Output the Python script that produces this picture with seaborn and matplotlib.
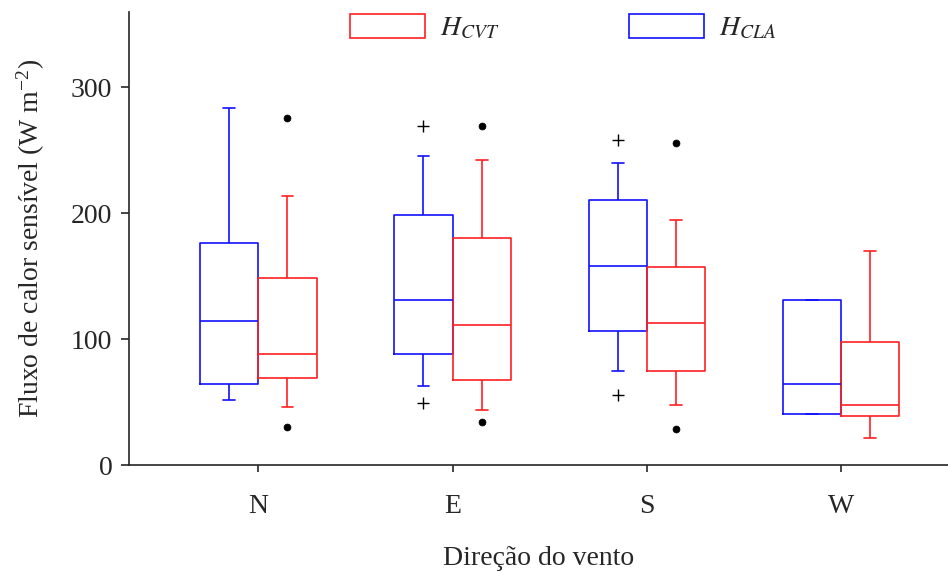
import seaborn as sns
import matplotlib.pyplot as plt
import matplotlib.patches as mpatches
import pandas as pd

# wind directions
direcoes = ['N', 'E', 'S', 'W']

# H_CLA (blue): whisker low (10%), Q1, median, Q3, whisker high (90%), outliers (5% / 95%)
cla_wlo = [51.7, 62.6, 74.8, 40.8]
cla_q1 = [64.4, 88.1, 106.3, 40.8]
cla_med = [114.1, 130.8, 157.8, 64.2]
cla_q3 = [176.4, 198.7, 210.3, 131.0]
cla_whi = [283.5, 245.3, 240.0, 131.0]
cla_out_lo = [None, 49.1, 55.7, None]
cla_out_hi = [None, 269.0, 258.4, None]

# H_CVT (red)
cvt_wlo = [45.9, 43.8, 47.5, 21.7]
cvt_q1 = [69.0, 67.6, 74.3, 39.0]
cvt_med = [88.1, 110.9, 113.0, 47.7]
cvt_q3 = [148.5, 180.4, 157.6, 97.6]
cvt_whi = [214.0, 241.9, 194.7, 170.0]
cvt_out_lo = [30.5, 34.2, 28.4, None]
cvt_out_hi = [275.9, 269.0, 255.4, None]


def amostra(wlo, q1, med, q3, whi, lo, hi):
    # 11 values whose 10/25/50/75/90 percentiles hit the read summary values
    lo = wlo if lo is None else lo
    hi = whi if hi is None else hi
    return [lo, wlo, q1, q1, med, med, med, q3, q3, whi, hi]


rows = []
for serie, stats in [('CLA', (cla_wlo, cla_q1, cla_med, cla_q3, cla_whi, cla_out_lo, cla_out_hi)),
                     ('CVT', (cvt_wlo, cvt_q1, cvt_med, cvt_q3, cvt_whi, cvt_out_lo, cvt_out_hi))]:
    for i, d in enumerate(direcoes):
        for v in amostra(*[s[i] for s in stats]):
            rows.append({'direcao': d, 'serie': serie, 'valor': v})
df = pd.DataFrame(rows)

sns.set_style('ticks')
plt.rcParams['font.family'] = ['Liberation Serif', 'DejaVu Serif']
plt.rcParams['mathtext.fontset'] = 'stix'

cores = {'CLA': '#1010ff', 'CVT': '#ff2020'}
fig = plt.figure(figsize=(9.48, 5.71), dpi=100)
ax = fig.add_axes([0.136, 0.1856, 0.864, 0.794])

sns.boxplot(data=df, x='direcao', y='valor', hue='serie',
            order=direcoes, hue_order=['CLA', 'CVT'], palette=cores,
            fill=False, width=0.6, gap=0, whis=(10, 90), linewidth=1.2,
            capwidths=0.06, legend=False, ax=ax)

# outliers: '+' for CLA (left box), filled dot for CVT (right box)
for ln in ax.lines:
    xs = ln.get_xdata()
    if ln.get_linestyle() == 'None' and len(xs) > 0:
        esquerda = (xs[0] - round(xs[0])) < 0
        if esquerda:
            ln.set_marker('+')
            ln.set_markersize(8)
            ln.set_markeredgewidth(1.0)
        else:
            ln.set_marker('o')
            ln.set_markersize(5)
            ln.set_markeredgewidth(0.5)
        ln.set_markeredgecolor('black')
        ln.set_markerfacecolor('black')

ax.set_xlim(-0.666, 3.55)
ax.set_ylim(0, 360)
ax.set_yticks([0, 100, 200, 300])
sns.despine(ax=ax)
ax.tick_params(axis='y', labelsize=20, length=6, width=1.2, pad=6)
ax.tick_params(axis='x', labelsize=20, length=5, width=1.2, pad=16)
for s in ['left', 'bottom']:
    ax.spines[s].set_linewidth(1.2)

ax.set_xlabel('Direção do vento', fontsize=20, labelpad=19)
ax.set_ylabel('Fluxo de calor sensível (W m$^{\\mathregular{-2}}$)', fontsize=20, labelpad=17)

handles = [mpatches.Patch(facecolor='none', edgecolor=cores['CVT'], linewidth=1.2),
           mpatches.Patch(facecolor='none', edgecolor=cores['CLA'], linewidth=1.2)]
ax.legend(handles, ['$H_{CVT}$', '$H_{CLA}$'], loc='center', bbox_to_anchor=(0.53, 0.965),
          ncol=2, frameon=False, fontsize=20, handlelength=2.7, handleheight=1.0,
          handletextpad=0.55, columnspacing=4.65)

fig.savefig('out.png', dpi=100)
